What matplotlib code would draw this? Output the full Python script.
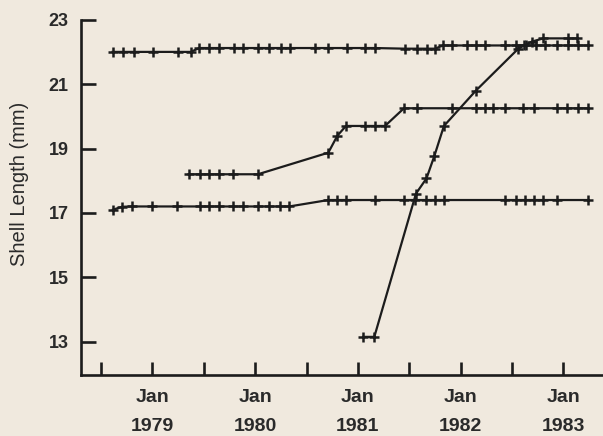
import matplotlib
matplotlib.use("Agg")
import matplotlib.pyplot as plt

plt.rcParams['font.family'] = ['Liberation Sans', 'DejaVu Sans']

# Measurement dates (decimal years) and shell lengths (mm) for four individuals
dates_a = [1978.612, 1978.716, 1978.820, 1979.005, 1979.251, 1979.372, 1979.456,
           1979.553, 1979.650, 1979.794, 1979.884, 1980.030, 1980.137, 1980.248,
           1980.339, 1980.582, 1980.712, 1980.891, 1981.069, 1981.167, 1981.459,
           1981.573, 1981.670, 1981.751, 1981.829, 1981.916, 1982.062, 1982.150,
           1982.238, 1982.432, 1982.539, 1982.637, 1982.734, 1982.822, 1982.939,
           1983.046, 1983.143, 1983.241]
length_a = [22.0, 22.0, 22.0, 22.0, 22.0, 22.0, 22.12,
            22.12, 22.12, 22.12, 22.12, 22.12, 22.12, 22.12,
            22.12, 22.12, 22.12, 22.12, 22.12, 22.12, 22.1,
            22.1, 22.1, 22.1, 22.2, 22.2, 22.2, 22.2,
            22.2, 22.2, 22.2, 22.2, 22.2, 22.2, 22.2,
            22.2, 22.2, 22.2]

dates_b = [1978.615, 1978.703, 1978.800, 1979.000, 1979.241, 1979.463, 1979.555,
           1979.643, 1979.787, 1979.878, 1980.024, 1980.136, 1980.241, 1980.332,
           1980.712, 1980.801, 1980.884, 1981.162, 1981.449, 1981.556, 1981.668,
           1981.748, 1981.836, 1982.432, 1982.537, 1982.627, 1982.715, 1982.806,
           1982.936, 1983.243]
length_b = [17.1, 17.19, 17.2, 17.2, 17.2, 17.2, 17.2,
            17.2, 17.2, 17.2, 17.2, 17.2, 17.2, 17.2,
            17.4, 17.4, 17.4, 17.4, 17.4, 17.4, 17.4,
            17.4, 17.4, 17.4, 17.4, 17.4, 17.4, 17.4,
            17.4, 17.4]

dates_c = [1979.351, 1979.458, 1979.553, 1979.650, 1979.784, 1980.027, 1980.712,
           1980.801, 1980.884, 1981.069, 1981.167, 1981.264, 1981.449, 1981.573,
           1981.913, 1982.150, 1982.238, 1982.318, 1982.432, 1982.611, 1982.715,
           1982.936, 1983.039, 1983.146, 1983.243]
length_c = [18.2, 18.2, 18.2, 18.2, 18.2, 18.2, 18.87,
            19.4, 19.7, 19.7, 19.7, 19.7, 20.25, 20.25,
            20.25, 20.25, 20.25, 20.25, 20.25, 20.25, 20.25,
            20.25, 20.25, 20.25, 20.25]

dates_d = [1981.053, 1981.160, 1981.566, 1981.668, 1981.746, 1981.838, 1982.150,
           1982.556, 1982.617, 1982.695, 1982.805, 1983.049, 1983.130]
length_d = [13.15, 13.15, 17.6, 18.07, 18.78, 19.7, 20.8,
            22.08, 22.2, 22.32, 22.42, 22.42, 22.42]

y_ticks = [13, 15, 17, 19, 21, 23]
jan_ticks = [1979, 1980, 1981, 1982, 1983]
jul_ticks = [1978.5, 1979.5, 1980.5, 1981.5, 1982.5]
x_labels = ["Jan\n1979", "Jan\n1980", "Jan\n1981", "Jan\n1982", "Jan\n1983"]

bg = '#f0e9de'
ink = '#1c1c1c'

fig = plt.figure(figsize=(6.03, 4.36), dpi=100, facecolor=bg)
ax = fig.add_axes([81 / 603, 61 / 436, 1 - 81 / 603, (375 - 19.7) / 436])
ax.set_facecolor(bg)

for d, v in [(dates_a, length_a), (dates_b, length_b),
             (dates_c, length_c), (dates_d, length_d)]:
    ax.plot(d, v, color=ink, lw=1.6, marker='+', ms=7.5, mew=1.8,
            solid_joinstyle='round', clip_on=False)

ax.set_xlim(1978.304, 1983.387)
ax.set_ylim(11.966, 23)

for s in ('top', 'right'):
    ax.spines[s].set_visible(False)
for s in ('left', 'bottom'):
    ax.spines[s].set_linewidth(1.9)
    ax.spines[s].set_color(ink)
    ax.spines[s].set_capstyle('projecting')

ax.set_yticks(y_ticks)
ax.set_yticklabels([str(t) for t in y_ticks], fontweight='bold')
ax.set_xticks(jan_ticks)
ax.set_xticklabels(x_labels, linespacing=1.9, fontweight='bold')
ax.set_xticks(jul_ticks, minor=True)

ax.tick_params(axis='y', direction='in', length=11, width=1.9, color=ink,
               pad=9, labelsize=13, labelcolor='#2a2a2a')
ax.tick_params(axis='x', which='both', direction='in', length=9.5, width=1.9,
               color=ink, pad=10, labelsize=14, labelcolor='#2a2a2a')

fig.text(20 / 603, 1 - 184 / 436, "Shell Length (mm)", rotation=90,
         ha='center', va='center', fontsize=14.5, color='#2a2a2a')

fig.savefig("out.png", dpi=100, facecolor=bg)
